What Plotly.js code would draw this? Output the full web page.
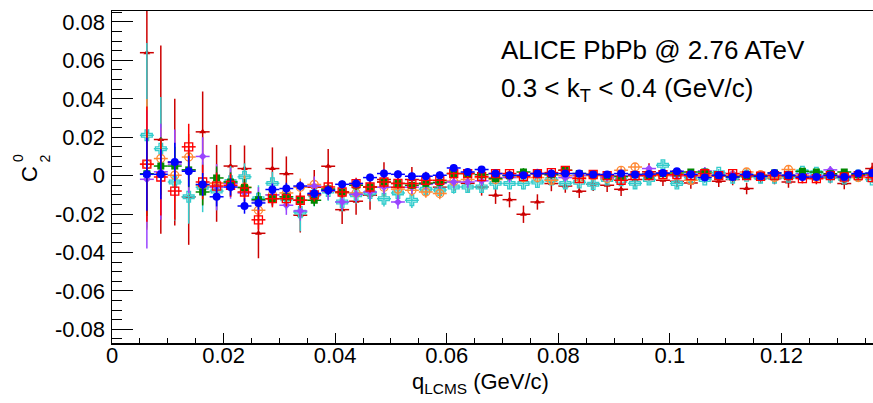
<!DOCTYPE html>
<html>
<head>
<meta charset="utf-8">
<script src="https://cdn.plot.ly/plotly-3.0.1.min.js"></script>
<style>html,body{margin:0;padding:0;background:#fff;}#chart{width:873px;height:403px;}</style>
</head>
<body>
<div id="chart"></div>
<script>
// bin centres of q_LCMS (GeV/c)
const qLCMS = [0.00625,0.00875,0.01125,0.01375,0.01625,0.01875,0.02125,0.02375,0.02625,0.02875,
  0.03125,0.03375,0.03625,0.03875,0.04125,0.04375,0.04625,0.04875,0.05125,0.05375,
  0.05625,0.05875,0.06125,0.06375,0.06625,0.06875,0.07125,0.07375,0.07625,0.07875,
  0.08125,0.08375,0.08625,0.08875,0.09125,0.09375,0.09625,0.09875,0.10125,0.10375,
  0.10625,0.10875,0.11125,0.11375,0.11625,0.11875,0.12125,0.12375,0.12625,0.12875,
  0.13125,0.13375,0.13625];
const binHalfWidth = 0.00125;

// axis tick labels
const xTickVals = [0, 0.02, 0.04, 0.06, 0.08, 0.1, 0.12];
const xTickText = ['0', '0.02', '0.04', '0.06', '0.08', '0.1', '0.12'];
const yTickVals = [-0.08, -0.06, -0.04, -0.02, 0, 0.02, 0.04, 0.06, 0.08];
const yTickText = ['-0.08', '-0.06', '-0.04', '-0.02', '0', '0.02', '0.04', '0.06', '0.08'];

// series: dark red triangles
const c2RedTri = [0.064,0.0188,0.007,-0.011,0.0228,-0.004,0.005,0.0037,-0.030,0.0037,
  0.001,-0.0206,-0.006,0.0049,-0.0177,-0.0133,-0.0102,-0.002,-0.006,-0.002,
  -0.004,-0.006,-0.003,-0.004,-0.0059,-0.0102,-0.0125,-0.0201,-0.0137,-0.0041,
  -0.0054,-0.0081,-0.0045,-0.005,-0.0071,-0.002,0.002,-0.0024,-0.0029,-0.0038,
  0.0,-0.0029,-0.002,-0.0067,-0.001,-0.0015,-0.0033,-0.001,-0.0015,-0.001,
  -0.0041,0.0,0.0037];
const errRedTri = [0.070,0.049,0.033,0.025,0.021,0.020,0.011,0.012,0.013,0.011,
  0.009,0.009,0.009,0.009,0.0075,0.007,0.0075,0.009,0.006,0.0065,
  0.006,0.0055,0.005,0.005,0.0045,0.0045,0.004,0.0045,0.004,0.004,
  0.0035,0.0035,0.0035,0.0035,0.0035,0.0035,0.0045,0.003,0.003,0.003,
  0.003,0.003,0.003,0.003,0.003,0.003,0.003,0.003,0.003,0.003,
  0.003,0.003,0.003];

// cyan open crosses
const c2Cyan = [0.021,0.014,-0.0033,-0.011,-0.006,-0.008,-0.003,-0.0006,-0.012,-0.004,
  -0.012,-0.019,-0.010,-0.008,-0.0137,-0.010,-0.009,-0.012,-0.009,-0.0128,
  -0.007,-0.0075,-0.0059,-0.0059,-0.0059,-0.004,-0.0041,-0.0041,-0.0033,-0.002,
  -0.004,-0.0035,-0.0045,-0.002,-0.0024,-0.004,-0.002,0.0054,-0.0041,-0.001,
  -0.002,0.0015,-0.001,0.0,-0.001,-0.001,-0.0005,0.002,0.0015,-0.0005,
  -0.0015,0.0,-0.002];
const errCyan = [0.048,0.027,0.020,0.014,0.013,0.010,0.008,0.007,0.007,0.006,
  0.006,0.010,0.006,0.005,0.005,0.0045,0.0045,0.004,0.004,0.004,
  0.0035,0.0035,0.0035,0.003,0.003,0.003,0.003,0.003,0.003,0.0025,
  0.0025,0.0025,0.0025,0.0025,0.0025,0.0025,0.0025,0.0025,0.0025,0.0025,
  0.002,0.002,0.002,0.002,0.002,0.002,0.002,0.002,0.002,0.002,
  0.002,0.002,0.002];

// orange open circles
const c2Orange = [0.0059,0.0089,0.0002,0.0097,-0.005,-0.004,-0.004,-0.006,-0.018,-0.010,
  -0.009,-0.006,-0.0046,-0.007,-0.009,-0.009,-0.006,-0.006,-0.007,-0.0076,
  -0.0085,-0.0093,-0.003,-0.002,-0.001,-0.002,0.0,-0.001,-0.001,-0.0024,
  0.0,-0.001,0.0,-0.0015,0.0028,0.0045,0.001,0.0,0.0,-0.0024,
  0.0,0.0,0.0,0.0019,0.0005,-0.001,0.0032,0.0,-0.001,0.0005,
  0.0,-0.001,0.0005];
const errOrange = [0.034,0.016,0.014,0.012,0.010,0.008,0.007,0.006,0.006,0.005,
  0.005,0.0045,0.004,0.004,0.0035,0.0035,0.0035,0.003,0.003,0.003,
  0.003,0.003,0.0025,0.0025,0.0025,0.0025,0.0025,0.0025,0.0025,0.0025,
  0.002,0.002,0.002,0.002,0.002,0.002,0.002,0.002,0.002,0.002,
  0.002,0.002,0.002,0.002,0.002,0.002,0.002,0.002,0.002,0.002,
  0.002,0.002,0.002];

// violet filled diamonds
const c2Violet = [-0.0019,0.002,0.006,0.003,0.010,-0.006,-0.004,-0.009,-0.013,-0.010,
  -0.0154,-0.0184,-0.0054,-0.008,-0.0137,-0.0097,-0.0085,-0.006,-0.0137,-0.006,
  -0.0045,-0.004,-0.0033,-0.0033,-0.0027,-0.001,-0.001,0.0,0.0011,0.0005,
  -0.001,0.0,0.0006,-0.001,0.0,0.0,0.0037,0.001,0.0,0.0,
  0.0025,0.0,0.001,0.0,0.0,0.0005,0.0,0.001,0.0,0.003,
  0.0,0.0,0.0];
const errViolet = [0.036,0.025,0.018,0.012,0.010,0.012,0.008,0.007,0.007,0.006,
  0.005,0.005,0.005,0.0045,0.004,0.004,0.004,0.0035,0.0035,0.0035,
  0.003,0.003,0.003,0.003,0.0025,0.0025,0.0025,0.0025,0.0025,0.0025,
  0.002,0.002,0.002,0.002,0.002,0.002,0.002,0.002,0.002,0.002,
  0.002,0.002,0.002,0.002,0.002,0.002,0.002,0.002,0.002,0.002,
  0.002,0.002,0.002];

// green filled squares
const c2Green = [0.001,0.005,0.005,0.003,-0.0085,-0.0012,-0.0033,-0.0062,-0.0125,-0.012,
  -0.011,-0.0128,-0.0128,-0.007,-0.0085,-0.005,-0.0059,-0.0033,-0.0041,-0.005,
  -0.004,-0.0035,0.0011,0.0011,0.0005,-0.0015,0.0,0.0019,0.001,0.0005,
  0.0028,0.0011,0.0006,0.0,-0.0005,0.0006,0.0,0.001,0.0014,0.0019,
  0.0019,0.0,-0.0005,0.0,0.0,0.0014,0.0,0.0023,0.0019,0.001,
  0.0019,0.0005,0.001];
const errGreen = [0.022,0.015,0.010,0.009,0.007,0.006,0.005,0.0045,0.004,0.0035,
  0.003,0.003,0.003,0.0025,0.0025,0.0025,0.0025,0.0025,0.002,0.002,
  0.002,0.002,0.002,0.002,0.002,0.002,0.002,0.002,0.002,0.002,
  0.0015,0.0015,0.0015,0.0015,0.0015,0.0015,0.0015,0.0015,0.0015,0.0015,
  0.0015,0.0015,0.0015,0.0015,0.0015,0.0015,0.0015,0.0015,0.0015,0.0015,
  0.0015,0.0015,0.0015];

// red open squares
const c2RedSq = [0.006,-0.0007,-0.008,0.015,-0.0033,-0.0054,-0.005,-0.0085,-0.023,-0.012,
  -0.012,-0.0128,-0.010,-0.0059,-0.0085,-0.0041,-0.0059,-0.0033,-0.004,-0.0041,
  -0.0024,-0.0024,0.0011,0.0011,-0.0005,0.0011,0.0011,-0.0005,0.0011,0.0016,
  0.0028,-0.0015,0.0006,0.0,-0.0024,0.0,0.0,0.0005,0.0005,0.0,
  0.001,0.0,0.0011,0.0,-0.0003,0.0,0.0,-0.0015,-0.0015,0.0,
  -0.0007,0.0,-0.001];
const errRedSq = [0.030,0.020,0.015,0.012,0.009,0.007,0.006,0.005,0.005,0.0045,
  0.004,0.004,0.0035,0.0035,0.003,0.003,0.003,0.003,0.003,0.0025,
  0.0025,0.0025,0.0025,0.0025,0.0025,0.002,0.002,0.002,0.002,0.002,
  0.002,0.002,0.002,0.002,0.002,0.002,0.002,0.002,0.002,0.002,
  0.002,0.002,0.002,0.002,0.002,0.002,0.002,0.002,0.002,0.002,
  0.002,0.002,0.002];

// blue filled circles
const c2Blue = [0.0007,0.0007,0.0071,0.0023,-0.0046,-0.011,-0.0059,-0.0158,-0.0142,-0.0072,
  -0.0067,-0.0054,-0.0093,-0.0076,-0.0045,-0.0041,-0.001,0.0011,0.0007,-0.0003,
  -0.0003,0.0002,0.004,0.0019,0.0032,0.0011,0.0002,0.0002,0.0011,0.0011,
  0.0011,0.0011,0.0006,0.0006,0.0011,0.0006,0.0008,0.0014,0.0023,0.0007,
  -0.001,0.0002,-0.0007,0.0006,-0.0003,0.0014,0.0002,-0.0007,-0.0007,0.0002,
  -0.0007,0.0011,0.0014];
const errBlue = [0.019,0.013,0.010,0.008,0.006,0.005,0.0045,0.004,0.0035,0.003,
  0.003,0.0025,0.0025,0.0025,0.002,0.002,0.002,0.002,0.002,0.002,
  0.002,0.002,0.0018,0.0018,0.0018,0.0018,0.0018,0.0018,0.0018,0.0018,
  0.0015,0.0015,0.0015,0.0015,0.0015,0.0015,0.0015,0.0015,0.0015,0.0015,
  0.0015,0.0015,0.0015,0.0015,0.0015,0.0015,0.0015,0.0015,0.0015,0.0015,
  0.0015,0.0015,0.0015];

const FONT = '"Liberation Sans", Arial, Helvetica, sans-serif';

function series(y, err, color, symbol, size, lineW) {
  return {
    type: 'scatter', mode: 'markers', x: qLCMS, y: y, cliponaxis: true,
    marker: {symbol: symbol, size: size, color: color, line: {color: color, width: lineW}},
    error_y: {type: 'data', array: err, visible: true, color: color, thickness: 1.5, width: 0},
    error_x: {type: 'constant', value: binHalfWidth, visible: true, color: color, thickness: 1.5, width: 0},
    hoverinfo: 'skip', showlegend: false
  };
}

const data = [
  series(c2RedTri, errRedTri, '#cc0000', 'triangle-up', 6, 0),
  series(c2Cyan, errCyan, '#33cccc', 'cross-open', 9, 1.3),
  series(c2Orange, errOrange, '#ff8833', 'circle-open', 8, 1.3),
  series(c2Violet, errViolet, '#9944ff', 'diamond', 6, 0),
  series(c2Green, errGreen, '#008800', 'square', 7, 0),
  series(c2RedSq, errRedSq, '#ff0000', 'square-open', 8, 1.3),
  series(c2Blue, errBlue, '#0000ff', 'circle', 8, 0)
];

// page geometry (pixels)
const W = 873, H = 403, ML = 112, MR = 0, MT = 11, MB = 60;
const PW = W - ML - MR, PH = H - MT - MB;
const px = v => (v - ML) / PW;
const py = v => (H - MB - v) / PH;

const layout = {
  width: W, height: H,
  margin: {l: ML, r: MR, t: MT, b: MB, pad: 0},
  paper_bgcolor: '#ffffff', plot_bgcolor: '#ffffff',
  font: {family: FONT, color: '#000000', size: 22},
  xaxis: {
    range: [0, 0.1364], showgrid: false, zeroline: false,
    showline: true, linecolor: '#000000', linewidth: 1.5, mirror: true,
    ticks: 'inside', ticklen: 10, tickwidth: 1, tickcolor: '#000000',
    tickmode: 'array', tickvals: xTickVals, ticktext: xTickText,
    tickfont: {family: FONT, size: 22, color: '#000'},
    minor: {ticks: 'inside', ticklen: 5, dtick: 0.005, tick0: 0, tickcolor: '#000', tickwidth: 1, showgrid: false},
    ticklabelstandoff: -8
  },
  yaxis: {
    range: [-0.0871, 0.0857], showgrid: false, zeroline: false,
    showline: true, linecolor: '#000000', linewidth: 1.5, mirror: false,
    ticks: 'inside', ticklen: 21, tickwidth: 1, tickcolor: '#000000',
    tickmode: 'array', tickvals: yTickVals, ticktext: yTickText,
    tickfont: {family: FONT, size: 22, color: '#000'},
    minor: {ticks: 'inside', ticklen: 10, dtick: 0.005, tick0: 0, tickcolor: '#000', tickwidth: 1, showgrid: false},
    ticklabelstandoff: 1
  },
  annotations: [
    {xref: 'paper', yref: 'paper', x: px(499), y: py(50), xanchor: 'left', yanchor: 'middle',
     text: 'ALICE PbPb @ 2.76 ATeV', showarrow: false, font: {family: FONT, size: 26, color: '#000'}},
    {xref: 'paper', yref: 'paper', x: px(499), y: py(90), xanchor: 'left', yanchor: 'middle',
     text: '0.3 < k<sub>T</sub> < 0.4 (GeV/c)', showarrow: false, font: {family: FONT, size: 26, color: '#000'}},
    {xref: 'paper', yref: 'paper', x: px(29), y: py(174), xanchor: 'center', yanchor: 'middle', textangle: -90,
     text: 'C', showarrow: false, font: {family: FONT, size: 22, color: '#000'}},
    {xref: 'paper', yref: 'paper', x: px(18), y: py(158), xanchor: 'center', yanchor: 'middle', textangle: -90,
     text: '0', showarrow: false, font: {family: FONT, size: 14, color: '#000'}},
    {xref: 'paper', yref: 'paper', x: px(44.5), y: py(159), xanchor: 'center', yanchor: 'middle', textangle: -90,
     text: '2', showarrow: false, font: {family: FONT, size: 14, color: '#000'}},
    {xref: 'paper', yref: 'paper', x: px(480), y: py(383), xanchor: 'center', yanchor: 'middle',
     text: 'q<sub>LCMS</sub> (GeV/c)', showarrow: false, font: {family: FONT, size: 22, color: '#000'}}
  ]
};

Plotly.newPlot('chart', data, layout, {staticPlot: true, displayModeBar: false});
</script>
</body>
</html>
